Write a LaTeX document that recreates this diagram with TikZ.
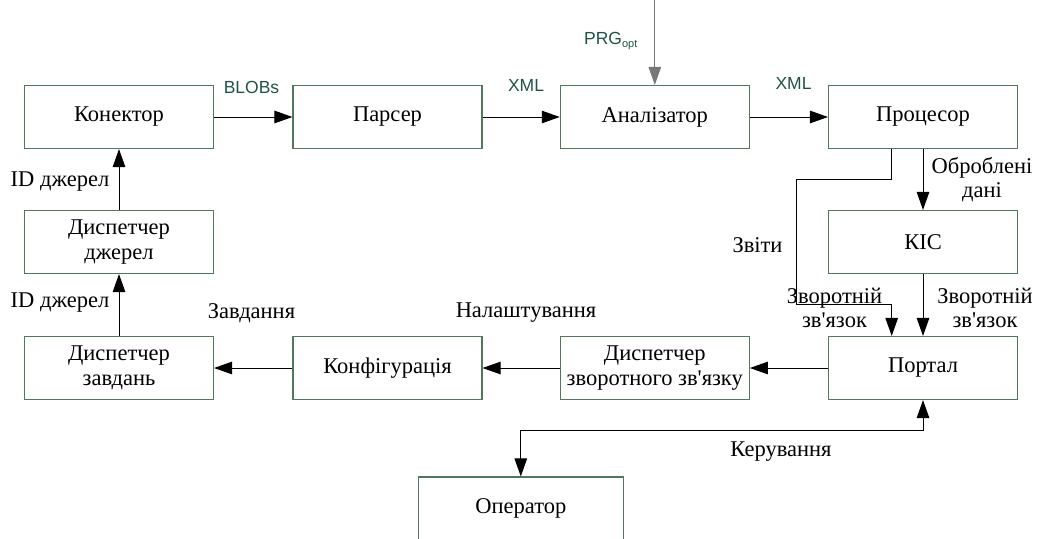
\documentclass[tikz,border=0pt]{standalone}
\usepackage{fontspec}
\setmainfont{Liberation Serif}
\newfontfamily\labelsans{Liberation Sans}
\usetikzlibrary{arrows.meta,positioning}
\definecolor{boxline}{RGB}{80,120,92}
\definecolor{flowtext}{RGB}{32,84,66}
\definecolor{inline}{RGB}{120,120,120}
\newcommand{\apos}{\textquotesingle}
\tikzset{
  tip/.tip={Triangle[length=18pt,width=12.5pt]},
  blockbox/.style={draw=boxline, line width=1.1pt, minimum width=189pt, minimum height=63pt,
    align=center, inner sep=0pt, font=\fontsize{22.5}{24.5}\selectfont},
  flow/.style={draw=black, line width=1pt, -tip},
  serifnote/.style={align=center, inner sep=0pt, font=\fontsize{22.5}{24.5}\selectfont},
  sansnote/.style={inner sep=0pt, text=flowtext, font=\labelsans\fontsize{17.5}{20}\selectfont},
}
\begin{document}
\begin{tikzpicture}[x=1pt,y=-1pt]
\useasboundingbox (0,0) rectangle (1038,538);

% top row
\node[blockbox] (kon)  at (119,117)   {Конектор};
\node[blockbox] (pars) at (387.5,117) {Парсер};
\node[blockbox] (anal) at (654.8,117) {Аналізатор};
\node[blockbox] (proc) at (923,117)   {Процесор};
% middle row
\node[blockbox] (dj)   at (119,242)   {Диспетчер\\джерел};
\node[blockbox] (kis)  at (923,242)   {КІС};
% bottom row
\node[blockbox] (dz)   at (119,368)   {Диспетчер\\завдань};
\node[blockbox] (konf) at (387.5,368) {Конфігурація};
\node[blockbox] (dzz)  at (654.8,368) {Диспетчер\\зворотного зв\apos язку};
\node[blockbox] (port) at (923,368)   {Портал};
% operator box, running past the lower edge
\node[blockbox, minimum width=205pt] (oper) at (520.8,508.5) {Оператор};

% free end of the incoming program line
\coordinate (prgin) at (654.8,0);
% route of the report line
\coordinate (r1) at (891.7,179);
\coordinate (r2) at (796.7,179);
\coordinate (r3) at (796.7,304);
\coordinate (r4) at (891.7,304);
% route of the control line
\coordinate (c1) at (923,430);
\coordinate (c2) at (520.8,430);

% data flow along the top
\draw[flow] (kon.east) -- (pars.west);
\draw[flow] (pars.east) -- (anal.west);
\draw[flow] (anal.east) -- (proc.west);
\draw[flow, draw=inline] (prgin) -- (anal.north);

% source dispatching
\draw[flow] (dj.north) -- (kon.south);
\draw[flow] (dz.north) -- (dj.south);

% processor outputs
\draw[flow] (proc.south) -- (kis.north);
\draw[flow] (proc.south -| r1) -- (r1) -- (r2) -- (r3) -- (r4) -- (port.north -| r4);
\draw[flow] (kis.south) -- (port.north);

% feedback along the bottom
\draw[flow] (port.west) -- (dzz.east);
\draw[flow] (dzz.west) -- (konf.east);
\draw[flow] (konf.west) -- (dz.east);

% portal and operator
\draw[flow, tip-tip] (port.south) -- (c1) -- (c2) -- (oper.north);

% labels
\node[sansnote] (lblob) at (251.5,87) {BLOBs};
\node[sansnote] (lxml1) at (526,85) {XML};
\node[sansnote] (lxml2) at (793.5,83) {XML};
\node[sansnote] (lprg)  at (611,41) {PRG\textsubscript{\fontsize{11}{12}\selectfont opt}};
\node[serifnote] (lobr) at (982,179.5) {Оброблені\\дані};
\node[serifnote] (lzvit) at (757.5,245) {Звіти};
\node[serifnote] (lzz1) at (834.5,308) {Зворотній\\зв\apos язок};
\node[serifnote] (lzz2) at (985,308) {Зворотній\\зв\apos язок};
\node[serifnote] (lid1) at (60,182) {ID джерел};
\node[serifnote] (lid2) at (60,303) {ID джерел};
\node[serifnote] (lzav) at (251.5,313) {Завдання};
\node[serifnote] (lnal) at (526,313) {Налаштування};
\node[serifnote] (lker) at (781,452) {Керування};
\end{tikzpicture}
\end{document}
